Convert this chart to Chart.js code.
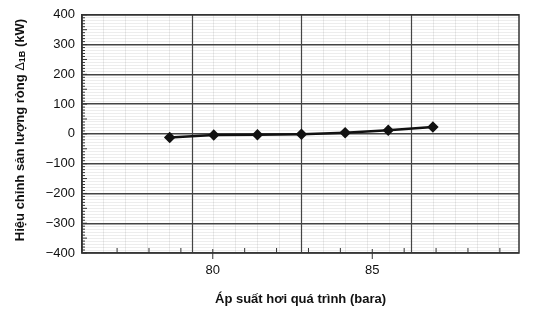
<!DOCTYPE html>
<html>
<head>
<meta charset="utf-8">
<script src="https://cdn.jsdelivr.net/npm/chart.js@4"></script>
<style>
  html, body { margin: 0; padding: 0; background: #fff; }
  #wrap { width: 537px; height: 314px; }
</style>
</head>
<body>
<div id="wrap"><canvas id="chart" width="537" height="314"></canvas></div>
<script>
  // áp suất (bara) và hiệu chỉnh (kW)
  var pressure = [78.65, 80.03, 81.4, 82.78, 84.15, 85.5, 86.9];
  var correction = [-12, -4, -3, -1, 4, 12, 23];
  var xLabels = [80, 85];
  var yLabels = [400, 300, 200, 100, 0, -100, -200, -300, -400];

  var FONT = "'Liberation Sans', Arial, sans-serif";

  // giấy kẻ ô: vạch đứng đậm mỗi 5 ô nhỏ
  var paperStart = 75.9, paperStep = 3.44 / 5;
  function paperTicks() {
    var t = [];
    for (var i = 1; i * paperStep + paperStart < 89.6; i++) t.push({ value: paperStart + i * paperStep, major: i % 5 === 0 });
    return t;
  }

  var extras = {
    id: 'extras',
    beforeDatasetsDraw: function (chart) {
      // vạch đứng đậm của giấy kẻ, vẽ đè lên lưới ngang
      var ctx = chart.ctx, a = chart.chartArea, g = chart.scales.xg;
      ctx.save();
      ctx.strokeStyle = '#444';
      ctx.lineWidth = 1.2;
      g.ticks.forEach(function (t) {
        if (!t.major) return;
        var px = Math.round(g.getPixelForValue(t.value)) + 0.5;
        ctx.beginPath(); ctx.moveTo(px, a.top); ctx.lineTo(px, a.bottom); ctx.stroke();
      });
      ctx.restore();
    },
    afterDraw: function (chart) {
      var ctx = chart.ctx, a = chart.chartArea;
      var xs = chart.scales.x, ys = chart.scales.y;
      ctx.save();
      ctx.strokeStyle = '#333';
      ctx.lineWidth = 1.5;
      ctx.strokeRect(a.left, a.top, a.right - a.left, a.bottom - a.top);
      // vạch nhỏ trên trục x
      ctx.lineWidth = 1;
      for (var v = 77; v <= 89; v++) {
        var px = xs.getPixelForValue(v);
        if (xLabels.indexOf(v) >= 0) {
          ctx.beginPath(); ctx.moveTo(px, a.bottom - 4); ctx.lineTo(px, a.bottom + 6); ctx.stroke();
        } else {
          ctx.beginPath(); ctx.moveTo(px, a.bottom); ctx.lineTo(px, a.bottom - 5); ctx.stroke();
        }
      }
      // vạch nhỏ trên trục y
      for (var y = -400; y <= 400; y += 10) {
        var py = ys.getPixelForValue(y);
        ctx.beginPath(); ctx.moveTo(a.left, py); ctx.lineTo(a.left + (y % 50 === 0 ? 5 : 3), py); ctx.stroke();
      }
      // tiêu đề trục y có chỉ số dưới
      ctx.translate(20, 130);
      ctx.rotate(-Math.PI / 2);
      ctx.fillStyle = '#111';
      ctx.textBaseline = 'middle';
      var parts = [
        ['Hiệu chỉnh sản lượng ròng ', 'bold 13px ' + FONT, 0],
        ['Δ', '13px ' + FONT, 0],
        ['1B', 'bold 9px ' + FONT, 3],
        [' (kW)', 'bold 13px ' + FONT, 0]
      ];
      var total = 0;
      parts.forEach(function (p) { ctx.font = p[1]; total += ctx.measureText(p[0]).width; });
      var x0 = -total / 2;
      parts.forEach(function (p) {
        ctx.font = p[1];
        ctx.fillText(p[0], x0, p[2]);
        x0 += ctx.measureText(p[0]).width;
      });
      ctx.restore();
    }
  };

  var ctx = document.getElementById('chart').getContext('2d');
  var chart = new Chart(ctx, {
    type: 'line',
    data: {
      datasets: [{
        data: pressure.map(function (p, i) { return { x: p, y: correction[i] }; }),
        borderColor: '#111',
        backgroundColor: '#111',
        borderWidth: 2.5,
        pointStyle: 'rectRot',
        pointRadius: 4,
        tension: 0
      }]
    },
    options: {
      responsive: false,
      animation: false,
      layout: { padding: { left: 0, right: 18, top: 14, bottom: 0 } },
      plugins: { legend: { display: false }, tooltip: { enabled: false } },
      scales: {
        x: {
          type: 'linear',
          position: 'bottom',
          min: 75.9,
          max: 89.6,
          afterFit: function (s) { s.height = 61; },
          grid: { drawOnChartArea: false, drawTicks: false },
          border: { display: false },
          ticks: {
            stepSize: 1,
            autoSkip: false,
            padding: 10,
            color: '#111',
            font: { family: FONT, size: 13 },
            maxRotation: 0,
            callback: function (v) { return xLabels.indexOf(v) >= 0 ? String(v) : ''; }
          },
          title: {
            display: true,
            text: 'Áp suất hơi quá trình (bara)',
            color: '#111',
            font: { family: FONT, size: 13, weight: 'bold' },
            padding: { top: 0, bottom: 7 }
          }
        },
        xg: {
          type: 'linear',
          position: 'top',
          min: 75.9,
          max: 89.6,
          afterFit: function (s) { s.height = 0; },
          afterBuildTicks: function (s) { s.ticks = paperTicks(); },
          border: { display: false },
          ticks: { display: false },
          grid: {
            drawTicks: false,
            color: function (c) { return c.tick && c.tick.major ? 'rgba(0,0,0,0)' : 'rgba(0,0,0,0.1)'; },
            lineWidth: 0.8
          }
        },
        y: {
          min: -400,
          max: 400,
          afterFit: function (s) { s.width = 82; },
          border: { display: true, color: '#333', width: 1.5 },
          grid: {
            drawTicks: false,
            color: function (c) { return c.tick && c.tick.value % 100 === 0 ? '#444' : 'rgba(0,0,0,0.09)'; },
            lineWidth: function (c) { return c.tick && c.tick.value % 100 === 0 ? 1.4 : 0.8; }
          },
          ticks: {
            stepSize: 10,
            autoSkip: false,
            padding: 7,
            color: '#111',
            font: { family: FONT, size: 13 },
            callback: function (v) {
              if (yLabels.indexOf(v) < 0) return '';
              return v < 0 ? '\u2212' + Math.abs(v) : String(v);
            }
          }
        }
      }
    },
    plugins: [extras]
  });
</script>
</body>
</html>
